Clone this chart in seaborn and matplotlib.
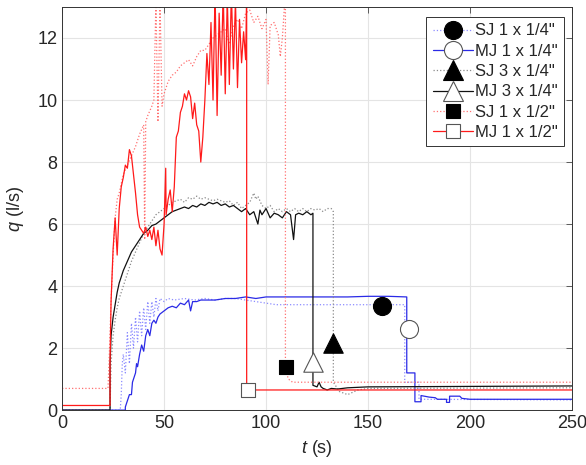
import numpy as np
import pandas as pd
import matplotlib
matplotlib.use("Agg")
import matplotlib.pyplot as plt
from matplotlib.lines import Line2D
import seaborn as sns

# --- data ------------------------------------------------------------------
# MJ 1 x 1/2" (solid red)
mj12_t = [0, 23.5, 23.5, 24, 25, 26, 27, 28, 29, 30, 31, 32, 33, 34, 35, 36, 37, 38,
          39, 40, 41, 42, 43, 44, 45, 46, 47, 48, 49, 50, 50.8, 51, 52, 53, 54, 55,
          56, 57, 58, 59, 60, 61, 62, 63, 64, 65, 66, 67, 68, 69, 70, 71, 72, 73,
          74, 75, 76, 77, 78, 79, 80, 81, 82, 83, 84, 85, 86, 87, 88, 89, 90,
          90.5, 90.5, 250]
mj12_q = [0.15, 0.15, 1.5, 3.5, 5.2, 6.2, 5.0, 6.5, 7.2, 7.5, 7.9, 7.8, 8.4, 8.2, 7.6,
          7.0, 6.3, 5.9, 5.8, 5.7, 5.9, 5.6, 5.8, 5.5, 5.9, 5.3, 5.8, 5.2, 5.0, 6.0,
          7.8, 6.3, 6.8, 7.1, 6.4, 7.2, 8.8, 9.0, 9.6, 9.8, 10.2, 10.0, 10.3, 10.1,
          9.4, 9.9, 9.2, 9.0, 8.0, 8.8, 10.0, 11.5, 10.5, 12.5, 10.0, 13.5, 9.5,
          12.8, 10.8, 13.5, 10.2, 13.3, 10.5, 13.5, 11.0, 13.2, 10.4, 12.6, 11.2,
          12.2, 11.3, 13.5, 0.65, 0.65]

# SJ 1 x 1/2" (dotted red)
sj12_t = [0, 22.5, 23, 24, 25, 26, 27, 28, 29, 30, 32, 34, 36, 38, 40, 40.5, 41, 42,
          44, 45, 46, 47, 48, 49, 50, 52, 54, 56, 58, 60, 62, 64, 66, 68, 70, 72,
          74, 76, 78, 80, 82, 84, 86, 88, 90, 92, 94, 96, 98, 100, 101, 102, 104,
          106, 107, 108, 109.5, 109.5, 111, 113, 250]
sj12_q = [0.7, 0.7, 1.5, 3.5, 5.0, 6.2, 6.8, 7.0, 7.3, 7.6, 7.9, 8.2, 8.5, 8.9, 9.2,
          5.5, 9.3, 9.5, 9.8, 10.0, 13.2, 9.3, 13.2, 9.8, 10.2, 10.6, 10.8, 10.9,
          11.1, 11.2, 11.3, 11.1, 11.4, 11.6, 11.6, 11.8, 12.0, 12.1, 12.2, 12.3,
          11.8, 12.4, 12.6, 12.3, 12.8, 12.9, 12.5, 12.7, 12.3, 12.6, 10.5, 12.4,
          12.5, 12.1, 11.4, 12.0, 13.5, 1.3, 1.0, 0.9, 0.9]

# MJ 3 x 1/4" (solid black)
mj34_t = [0, 23.5, 23.5, 24, 25, 26, 27, 28, 30, 32, 34, 36, 38, 40, 42, 44, 46, 48,
          50, 52, 54, 56, 58, 60, 62, 64, 66, 68, 70, 72, 74, 76, 78, 80, 82, 84, 86,
          88, 90, 92, 94, 96, 97, 98, 100, 102, 104, 106, 108, 110, 112, 113.5,
          114.5, 116, 118, 120, 122, 123, 123, 125, 126, 127, 128, 130, 132, 135,
          140, 150, 250]
mj34_q = [0, 0, 1.5, 2.4, 3.0, 3.4, 3.8, 4.1, 4.5, 4.8, 5.1, 5.3, 5.5, 5.7, 5.8, 5.95,
          6.0, 6.1, 6.2, 6.3, 6.4, 6.45, 6.5, 6.55, 6.5, 6.6, 6.55, 6.65, 6.6, 6.7,
          6.65, 6.7, 6.6, 6.65, 6.55, 6.6, 6.5, 6.4, 6.5, 6.3, 6.4, 6.0, 6.45, 6.3,
          6.5, 6.2, 6.35, 6.3, 6.2, 6.4, 6.3, 5.5, 6.3, 6.35, 6.3, 6.4, 6.3, 6.35,
          0.8, 0.75, 0.9, 0.75, 0.7, 0.65, 0.7, 0.68, 0.72, 0.75, 0.78]

# SJ 3 x 1/4" (dotted black)
sj34_t = [0, 23.5, 24, 25, 26, 27, 28, 30, 32, 34, 36, 38, 40, 42, 44, 46, 48, 50, 52,
          54, 56, 58, 60, 62, 64, 66, 68, 70, 72, 74, 76, 78, 80, 82, 84, 86, 88, 90,
          92, 94, 95, 96, 98, 100, 102, 104, 106, 108, 110, 112, 114, 116, 118, 120,
          122, 124, 126, 128, 130, 132, 133, 133, 136, 140, 145, 150, 250]
sj34_q = [0, 0, 1.5, 2.4, 2.9, 3.3, 3.6, 4.0, 4.4, 4.8, 5.1, 5.4, 5.7, 5.9, 6.1, 6.3,
          6.4, 6.5, 6.6, 6.7, 6.75, 6.8, 6.7, 6.85, 6.8, 6.9, 6.8, 6.85, 6.8, 6.75,
          6.8, 6.75, 6.7, 6.75, 6.6, 6.7, 6.5, 6.6, 6.7, 7.0, 6.8, 6.9, 6.6, 6.5,
          6.6, 6.4, 6.5, 6.4, 6.5, 6.4, 6.5, 6.4, 6.5, 6.4, 6.5, 6.45, 6.5, 6.4, 6.5,
          6.5, 6.4, 0.9, 0.6, 0.5, 0.65, 0.7, 0.72]

# MJ 1 x 1/4" (solid blue)
mj14_t = [0, 31, 31, 32, 33, 34, 34.5, 35, 36, 36.5, 37, 38, 39, 40, 41, 42, 43, 44,
          45, 46, 47, 48, 50, 52, 54, 56, 58, 60, 62, 63, 64, 66, 68, 70, 75, 80, 85,
          90, 95, 100, 110, 120, 130, 140, 150, 160, 169, 169, 173, 173, 176, 176,
          180, 183, 184, 188.5, 188.5, 190, 190, 195, 196, 200, 250]
mj14_q = [0, 0, 0.1, 0.3, 0.5, 0.5, 0.9, 1.0, 1.2, 1.5, 1.4, 1.8, 2.1, 1.9, 2.4, 2.6,
          2.4, 2.8, 2.9, 2.8, 3.0, 3.1, 3.2, 3.3, 3.35, 3.3, 3.45, 3.4, 3.55, 3.2,
          3.5, 3.5, 3.55, 3.55, 3.55, 3.6, 3.6, 3.65, 3.6, 3.65, 3.65, 3.65, 3.65,
          3.65, 3.67, 3.67, 3.65, 1.2, 1.2, 0.27, 0.27, 0.47, 0.42, 0.40, 0.35, 0.35,
          0.25, 0.25, 0.45, 0.45, 0.38, 0.35, 0.35]

# SJ 1 x 1/4" (dotted blue)
sj14_t = [0, 28.5, 29, 29.5, 30, 31, 32, 33, 34, 35, 36, 37, 38, 39, 40, 41, 42, 43,
          44, 45, 46, 47, 48, 50, 52, 55, 60, 65, 70, 75, 80, 85, 90, 95, 100, 105,
          110, 120, 130, 140, 150, 160, 168, 168, 175, 175, 250]
sj14_q = [0, 0, 0.5, 1.5, 1.8, 1.2, 2.5, 1.5, 2.8, 2.0, 3.0, 2.2, 3.2, 2.4, 3.3, 2.6,
          3.5, 2.8, 3.5, 3.0, 3.6, 3.2, 3.6, 3.5, 3.6, 3.55, 3.6, 3.55, 3.6, 3.55,
          3.6, 3.6, 3.55, 3.5, 3.45, 3.4, 3.4, 3.4, 3.4, 3.4, 3.4, 3.4, 3.4, 0.9,
          0.9, 0.35, 0.33]

# emptying points (markers)
labels = ['SJ 1 x 1/4"', 'MJ 1 x 1/4"', 'SJ 3 x 1/4"', 'MJ 3 x 1/4"',
          'SJ 1 x 1/2"', 'MJ 1 x 1/2"']
mark_t = [157, 170, 133, 123, 110, 91]
mark_q = [3.35, 2.6, 2.15, 1.55, 1.4, 0.65]

# --- styling ---------------------------------------------------------------
sns.set_style("white")
plt.rcParams["font.family"] = ["Liberation Sans", "DejaVu Sans"]
plt.rcParams["mathtext.fontset"] = "custom"
plt.rcParams["mathtext.it"] = "Liberation Sans:italic"
plt.rcParams["mathtext.rm"] = "Liberation Sans"

series = [
    (sj14_t, sj14_q, "#8c8cff", ":"),
    (mj14_t, mj14_q, "#2a2ae6", "-"),
    (sj34_t, sj34_q, "#8a8a8a", ":"),
    (mj34_t, mj34_q, "#111111", "-"),
    (sj12_t, sj12_q, "#ff7070", ":"),
    (mj12_t, mj12_q, "#ff1a1a", "-"),
]
markers = ["o", "o", "^", "^", "s", "s"]
faces = ["black", "white", "black", "white", "black", "white"]
edges = ["black", "#555555", "black", "#555555", "black", "#555555"]
msizes = [13, 13, 14, 14, 10, 10]

fig = plt.figure(figsize=(5.86, 4.65), dpi=100)
ax = fig.add_axes([0.106, 0.118, 0.87, 0.867])

for t, q, c, ls in series:
    df = pd.DataFrame({"t": t, "q": q})
    sns.lineplot(data=df, x="t", y="q", color=c, linestyle=ls, lw=0.9,
                 estimator=None, sort=False, ax=ax)

for i in range(len(labels)):
    sns.scatterplot(x=[mark_t[i]], y=[mark_q[i]], marker=markers[i],
                    s=msizes[i] ** 2, color=faces[i], edgecolor=edges[i],
                    linewidth=0.8, zorder=5, ax=ax)

ax.set_xlim(0, 250)
ax.set_ylim(0, 13)
ax.set_xticks([0, 50, 100, 150, 200, 250])
ax.set_yticks([0, 2, 4, 6, 8, 10, 12])
ax.grid(True, color="#e4e4e4", lw=0.8)
ax.tick_params(direction="in", labelsize=13, top=True, right=True,
               length=4, color="#444444", width=0.6)
for sp in ax.spines.values():
    sp.set_color("#333333")
    sp.set_linewidth(0.7)
ax.set_xlabel("$t$ (s)", fontsize=13)
ax.set_ylabel("$q$ (l/s)", fontsize=13, labelpad=8)

handles = []
for i in range(len(labels)):
    _, _, c, ls = series[i]
    handles.append(Line2D([0], [0], color=c, linestyle=ls, lw=0.9,
                          marker=markers[i], markersize=msizes[i],
                          markerfacecolor=faces[i], markeredgecolor=edges[i],
                          markeredgewidth=0.8))
leg = ax.legend(handles, labels, loc="upper right", fontsize=12,
                handlelength=2.4, handletextpad=0.15, labelspacing=0.32,
                borderpad=0.38, borderaxespad=0, fancybox=False, framealpha=1,
                edgecolor="#333333", bbox_to_anchor=(0.985, 0.975))
leg.get_frame().set_linewidth(0.7)

fig.savefig("out.png", dpi=100)
